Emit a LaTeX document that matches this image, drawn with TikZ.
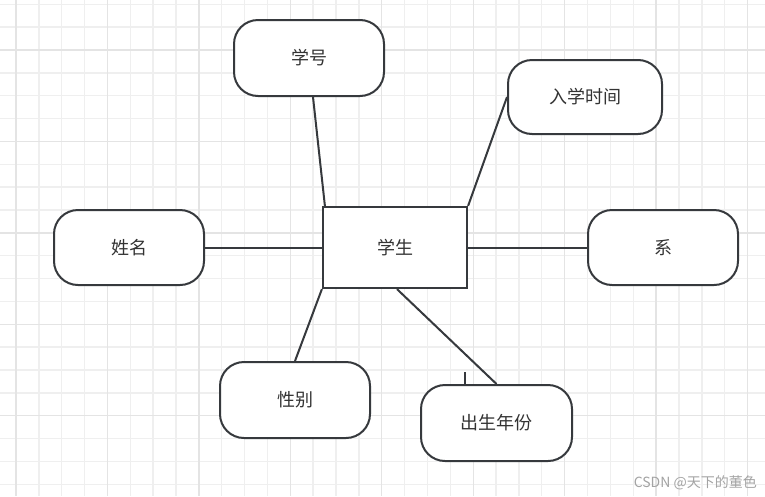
\documentclass[tikz,border=0pt]{standalone}
\usepackage{fontspec}
\setmainfont{Noto Sans CJK SC}
\definecolor{ink}{HTML}{36393D}
\definecolor{txt}{HTML}{333333}
\definecolor{gminor}{HTML}{EFEFEF}
\definecolor{gmajor}{HTML}{E4E4E4}
\begin{document}
\begin{tikzpicture}[x=1pt,y=-1pt,
  attr/.style={draw=ink, line width=2pt, fill=white, rounded corners=24pt, text=txt,
    font=\fontsize{18}{18}\selectfont, inner sep=0pt},
  entity/.style={draw=ink, line width=2.2pt, fill=white, text=txt,
    font=\fontsize{18}{18}\selectfont, inner sep=0pt},
  link/.style={draw=ink, line width=2pt}]
\useasboundingbox (0,0) rectangle (765,496);
\fill[white] (0,0) rectangle (765,496);
% grid
\foreach \k in {-1,...,33} {
  \pgfmathsetmacro{\gx}{16+22.86*\k}
  \draw[gminor, line width=1.4pt] (\gx,0) -- (\gx,496);
}
\foreach \k in {-3,...,20} {
  \pgfmathsetmacro{\gy}{50+22.86*\k}
  \draw[gminor, line width=1.4pt] (0,\gy) -- (765,\gy);
}
\foreach \k in {0,...,8} {
  \pgfmathsetmacro{\gx}{16+91.44*\k}
  \draw[gmajor, line width=1.4pt] (\gx,0) -- (\gx,496);
}
\foreach \k in {0,...,4} {
  \pgfmathsetmacro{\gy}{50+91.44*\k}
  \draw[gmajor, line width=1.4pt] (0,\gy) -- (765,\gy);
}
\node[attr, minimum width=150pt, minimum height=76pt] (xuehao) at (309,58) {学号};
\node[attr, minimum width=154pt, minimum height=74pt] (rxsj) at (585,97) {入学时间};
\node[attr, minimum width=150pt, minimum height=75pt] (xm) at (129,247.5) {姓名};
\node[attr, minimum width=150pt, minimum height=75pt] (xi) at (663,247.5) {系};
\node[attr, minimum width=150pt, minimum height=76pt] (xb) at (295,400) {性别};
\node[attr, minimum width=151pt, minimum height=76pt] (csnf) at (496.5,423) {出生年份};
\node[entity, minimum width=144pt, minimum height=81pt] (stu) at (395,247.5) {学生};
\draw[link] ([xshift=4pt]xuehao.south) -- ([xshift=3pt]stu.north west);
\draw[link] (rxsj.west) -- (stu.north east);
\draw[link] (xm.east) -- (stu.west);
\draw[link] (stu.east) -- (xi.west);
\draw[link] (stu.south west) -- (xb.north);
\draw[link] ([xshift=2pt]stu.south) -- (csnf.north);
\draw[link] ([xshift=-31.5pt]csnf.north) -- ++(0,-12);
\node[anchor=east, text=black!36, font=\fontsize{14}{14}\selectfont, inner sep=0pt] (wm) at (757,483) {CSDN @天下的董色};
\end{tikzpicture}
\end{document}
